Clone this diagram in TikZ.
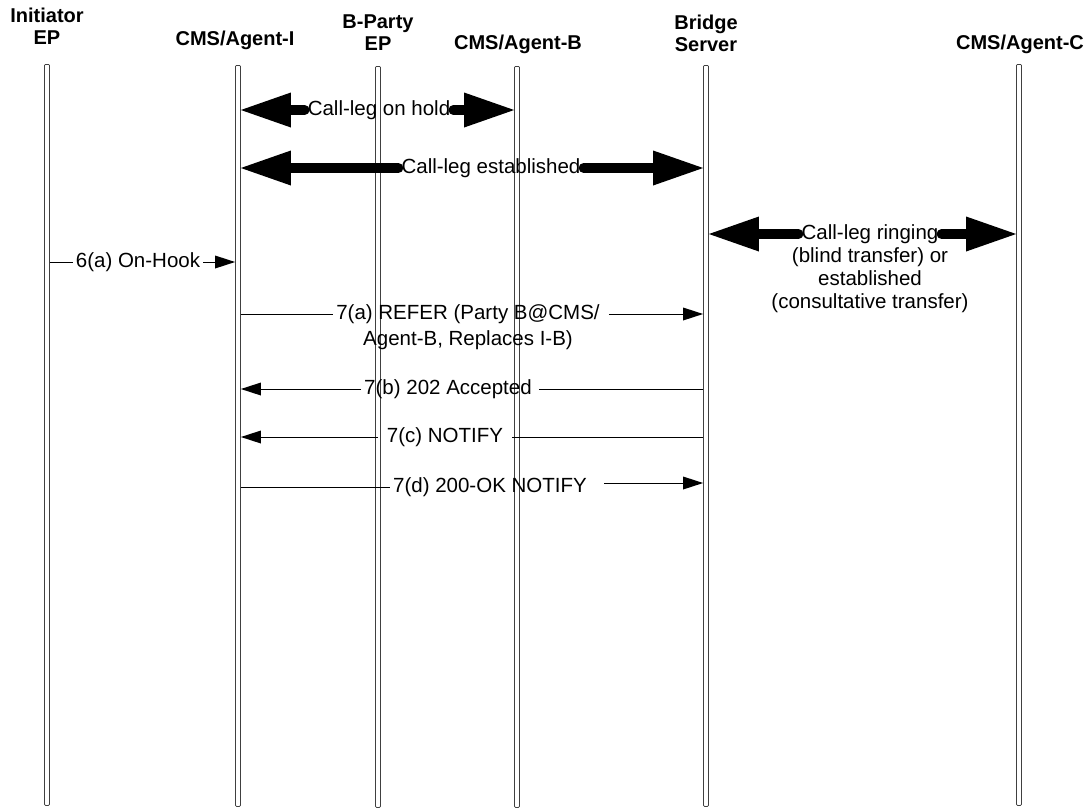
\documentclass[tikz,border=0pt]{standalone}
\usepackage{fontspec}
\setmainfont{Liberation Sans}
\usetikzlibrary{arrows.meta,positioning}
\tikzset{
  lifeline/.style={draw=black!75, line width=.8pt, fill=white, minimum width=5pt,
    minimum height=741pt, inner sep=0pt, anchor=north, rounded corners=1pt},
  party/.style={font=\fontsize{20}{22}\selectfont\bfseries, align=center, inner sep=0pt},
  msg/.style={font=\fontsize{20.5}{23}\selectfont, align=center, inner sep=3pt},
  fat/.style={line width=10pt, line cap=round},
  fathead/.style={-{Triangle[length=50pt,width=35pt,line width=0pt]}},
  sig/.style={line width=1pt},
  sighead/.style={-{Triangle[length=20pt,width=13pt,line width=0pt]}}
}
\begin{document}
\begin{tikzpicture}[x=1pt,y=-1pt]
\useasboundingbox (0,0) rectangle (1091,809);
% parties
\node [party] (hInit) at (47,26) {Initiator\\EP};
\node [party] (hAgentI) at (235,40) {CMS/Agent-I};
\node [party] (hPartyB) at (378,33) {B-Party\\EP};
\node [party] (hAgentB) at (518,44) {CMS/Agent-B};
\node [party] (hBridge) at (706,33) {Bridge\\Server};
\node [party] (hAgentC) at (1020,44) {CMS/Agent-C};
% lifelines
\node [lifeline] (initEP) at (47,64) {};
\node [lifeline] (agentI) at (238,65) {};
\node [lifeline] (partyB) at (378,66) {};
\node [lifeline] (agentB) at (517,66) {};
\node [lifeline] (bridge) at (706,65) {};
\node [lifeline] (agentC) at (1019,64) {};
% call legs
\node [msg] (hold) at (379,110) {Call-leg on hold};
\draw [fat,fathead] (hold.west) -- (agentI.east |- hold);
\draw [fat,fathead] (hold.east) -- (agentB.west |- hold);
\node [msg] (estab) at (491,168) {Call-leg established};
\draw [fat,fathead] (estab.west) -- (agentI.east |- estab);
\draw [fat,fathead] (estab.east) -- (bridge.west |- estab);
\node [msg] (ring) at (870,234) {Call-leg ringing};
\node [msg] (ringnote) at (870,280) {(blind transfer) or\\established\\(consultative transfer)};
\draw [fat,fathead] (ring.west) -- (bridge.east |- ring);
\draw [fat,fathead] (ring.east) -- (agentC.west |- ring);
% messages
\node [msg] (onhook) at (138,262) {6(a) On-Hook};
\draw [sig] (initEP.east |- onhook) -- (onhook.west);
\draw [sig,sighead] (onhook.east) -- (agentI.west |- onhook);
\node [msg] (refer) at (468,314) {7(a) REFER (Party B@CMS/};
\node [msg] (refer2) at (468,340) {Agent-B, Replaces I-B)};
\draw [sig] (agentI.east |- refer) -- (refer.west);
\draw [sig,sighead] ([xshift=6pt]refer.east) -- (bridge.west |- refer);
\node [msg] (accept) at (448,389) {7(b) 202 Accepted};
\draw [sig] ([xshift=4pt]accept.east) -- (bridge.west |- accept);
\draw [sig,sighead] (accept.west) -- (agentI.east |- accept);
\node [msg] (notify) at (445,437) {7(c) NOTIFY};
\draw [sig] ([xshift=6pt]notify.east) -- (bridge.west |- notify);
\draw [sig,sighead] ([xshift=-6pt]notify.west) -- (agentI.east |- notify);
\node [msg] (okay) at (490,487) {7(d) 200-OK NOTIFY};
\draw [sig] (agentI.east |- okay) -- (okay.west);
\draw [sig,sighead] ([shift={(14,-4)}]okay.east) -- ([yshift=4pt]bridge.west |- okay.east);
\end{tikzpicture}
\end{document}
